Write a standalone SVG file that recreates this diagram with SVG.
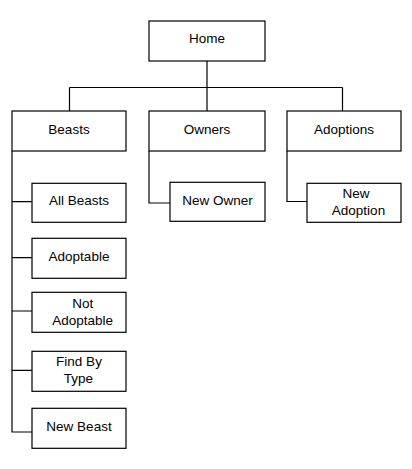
<svg xmlns="http://www.w3.org/2000/svg" width="412" height="469" viewBox="0 0 412 469">
<style>
rect{fill:#fff;stroke:#000;stroke-width:1.2}
text{font-family:"Liberation Sans",Arial,sans-serif;font-size:13.5px;fill:#000;text-anchor:middle}
.c{fill:none;stroke:#000;stroke-width:1.2}
</style>
<rect x="0" y="0" width="412" height="469" style="stroke:none"/>
<g id="connectors">
<path class="c" d="M207 61V87.5M69.5 87.5H342.5M69.5 87.5V111M207 87.5V111M342.5 87.5V111"/>
<path class="c" d="M12 151V432H32M12 201.7H32M12 257.7H32M12 311H32M12 370.3H32"/>
<path class="c" d="M149 151V203H170"/>
<path class="c" d="M287 151V201.5H307"/>
</g>
<g id="home"><rect x="149" y="21" width="116" height="40"/><text x="207" y="42.8">Home</text></g>
<g id="beasts"><rect x="12" y="111" width="114" height="40"/><text x="69" y="133.5">Beasts</text></g>
<g id="owners"><rect x="149" y="111" width="116" height="40"/><text x="207" y="133.5">Owners</text></g>
<g id="adoptions"><rect x="287" y="111" width="114" height="40"/><text x="344" y="133.5">Adoptions</text></g>
<g id="all-beasts"><rect x="32" y="183.3" width="94" height="39"/><text x="79" y="205">All Beasts</text></g>
<g id="new-owner"><rect x="170" y="182.3" width="95" height="39"/><text x="217.5" y="204.5">New Owner</text></g>
<g id="new-adoption"><rect x="307" y="183.3" width="94" height="39"/><text x="356" y="197.8">New</text><text x="358.5" y="214.5">Adoption</text></g>
<g id="adoptable"><rect x="32" y="238.3" width="94" height="40"/><text x="79" y="261">Adoptable</text></g>
<g id="not-adoptable"><rect x="32" y="292.3" width="94" height="40"/><text x="82.7" y="307.8">Not</text><text x="82.7" y="324.5">Adoptable</text></g>
<g id="find-by-type"><rect x="32" y="351.3" width="94" height="40"/><text x="79" y="366.2">Find By</text><text x="78.5" y="382.8">Type</text></g>
<g id="new-beast"><rect x="32" y="408.3" width="94" height="40"/><text x="79" y="431">New Beast</text></g>
</svg>
